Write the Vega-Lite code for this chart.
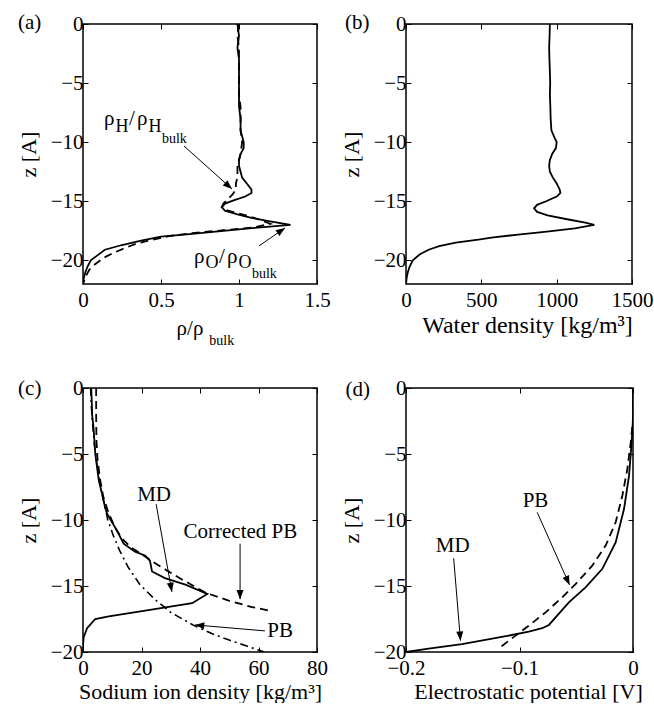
{
  "$schema": "https://vega.github.io/schema/vega-lite/v6.json",
  "padding": {"left": 16, "top": 11, "right": 0, "bottom": 0},
  "background": "white",
  "config": {
    "font": "Liberation Serif, Times New Roman, Times, serif",
    "view": {"stroke": "black", "strokeWidth": 1.5},
    "axis": {"labelFont": "Liberation Serif, Times New Roman, Times, serif", "titleFont": "Liberation Serif, Times New Roman, Times, serif", "labelFontSize": 21, "titleFontSize": 22, "titleFontWeight": "normal", "labelColor": "black", "titleColor": "black", "tickColor": "black", "tickSize": -5, "tickWidth": 1, "domain": false, "grid": false, "labelFlush": false, "labelOverlap": false, "labelPadding": 10, "titlePadding": 3, "format": "~f"},
    "axisY": {"labelPadding": 5, "titlePadding": 10},
    "text": {"font": "Liberation Serif, Times New Roman, Times, serif", "fontSize": 21, "color": "black"},
    "line": {"color": "black"}
  },
  "datasets": {
    "a": [
      {"s": "O", "v": 0.99, "z": 0}, {"s": "O", "v": 1.0, "z": -1}, {"s": "O", "v": 0.99, "z": -2}, {"s": "O", "v": 1.0, "z": -3}, {"s": "O", "v": 1.0, "z": -4}, {"s": "O", "v": 1.0, "z": -5}, {"s": "O", "v": 1.0, "z": -6}, {"s": "O", "v": 1.0, "z": -7}, {"s": "O", "v": 1.01, "z": -8}, {"s": "O", "v": 1.01, "z": -9}, {"s": "O", "v": 1.02, "z": -9.5}, {"s": "O", "v": 1.03, "z": -10}, {"s": "O", "v": 1.03, "z": -10.5}, {"s": "O", "v": 1.01, "z": -11}, {"s": "O", "v": 1.0, "z": -11.5}, {"s": "O", "v": 1.0, "z": -12}, {"s": "O", "v": 1.01, "z": -12.5}, {"s": "O", "v": 1.02, "z": -13}, {"s": "O", "v": 1.05, "z": -13.5}, {"s": "O", "v": 1.08, "z": -14}, {"s": "O", "v": 1.08, "z": -14.3}, {"s": "O", "v": 1.04, "z": -14.6}, {"s": "O", "v": 0.97, "z": -14.9}, {"s": "O", "v": 0.91, "z": -15.2}, {"s": "O", "v": 0.89, "z": -15.5}, {"s": "O", "v": 0.91, "z": -15.8}, {"s": "O", "v": 0.99, "z": -16.1}, {"s": "O", "v": 1.08, "z": -16.4}, {"s": "O", "v": 1.2, "z": -16.7}, {"s": "O", "v": 1.33, "z": -17.0}, {"s": "O", "v": 1.1, "z": -17.25}, {"s": "O", "v": 0.9, "z": -17.5}, {"s": "O", "v": 0.7, "z": -17.75}, {"s": "O", "v": 0.5, "z": -18.0}, {"s": "O", "v": 0.38, "z": -18.3}, {"s": "O", "v": 0.25, "z": -18.7}, {"s": "O", "v": 0.14, "z": -19.1}, {"s": "O", "v": 0.09, "z": -19.6}, {"s": "O", "v": 0.05, "z": -20.0}, {"s": "O", "v": 0.03, "z": -20.5}, {"s": "O", "v": 0.015, "z": -21}, {"s": "O", "v": 0.005, "z": -21.5}, {"s": "O", "v": 0, "z": -22},
      {"s": "H", "v": 1.0, "z": 0}, {"s": "H", "v": 0.99, "z": -1}, {"s": "H", "v": 1.0, "z": -2}, {"s": "H", "v": 1.0, "z": -3}, {"s": "H", "v": 1.0, "z": -4}, {"s": "H", "v": 1.0, "z": -5}, {"s": "H", "v": 1.0, "z": -6}, {"s": "H", "v": 1.01, "z": -7}, {"s": "H", "v": 1.01, "z": -8}, {"s": "H", "v": 1.01, "z": -9}, {"s": "H", "v": 1.02, "z": -10}, {"s": "H", "v": 1.01, "z": -11}, {"s": "H", "v": 0.99, "z": -12}, {"s": "H", "v": 0.99, "z": -12.5}, {"s": "H", "v": 0.99, "z": -13}, {"s": "H", "v": 0.98, "z": -13.5}, {"s": "H", "v": 0.98, "z": -14}, {"s": "H", "v": 0.96, "z": -14.4}, {"s": "H", "v": 0.93, "z": -14.8}, {"s": "H", "v": 0.9, "z": -15.2}, {"s": "H", "v": 0.89, "z": -15.5}, {"s": "H", "v": 0.93, "z": -15.8}, {"s": "H", "v": 1.02, "z": -16.1}, {"s": "H", "v": 1.12, "z": -16.5}, {"s": "H", "v": 1.2, "z": -16.9}, {"s": "H", "v": 1.1, "z": -17.2}, {"s": "H", "v": 0.9, "z": -17.45}, {"s": "H", "v": 0.7, "z": -17.7}, {"s": "H", "v": 0.55, "z": -17.95}, {"s": "H", "v": 0.43, "z": -18.3}, {"s": "H", "v": 0.34, "z": -18.6}, {"s": "H", "v": 0.26, "z": -19.0}, {"s": "H", "v": 0.19, "z": -19.4}, {"s": "H", "v": 0.13, "z": -19.8}, {"s": "H", "v": 0.08, "z": -20.3}, {"s": "H", "v": 0.04, "z": -20.8}, {"s": "H", "v": 0.02, "z": -21.3}, {"s": "H", "v": 0, "z": -22}
    ],
    "arrA": [
      {"id": "H", "v": 0.647, "z": -10.32, "v2": 0.955, "z2": -13.96},
      {"id": "O", "v": 1.128, "z": -18.78, "v2": 1.295, "z2": -17.26}
    ],
    "txtA": [
      {"t": "(a)", "v": -0.417, "z": -0.42},
      {"t": "ρ", "v": 0.135, "z": -8.55}, {"t": "H", "v": 0.208, "z": -9.14}, {"t": "/", "v": 0.295, "z": -8.55}, {"t": "ρ", "v": 0.346, "z": -8.55}, {"t": "H", "v": 0.42, "z": -9.14}, {"t": "bulk", "v": 0.506, "z": -10.07},
      {"t": "ρ", "v": 0.712, "z": -20.22}, {"t": "O", "v": 0.785, "z": -20.65}, {"t": "/", "v": 0.872, "z": -20.22}, {"t": "ρ", "v": 0.923, "z": -20.22}, {"t": "O", "v": 0.997, "z": -20.65}, {"t": "bulk", "v": 1.083, "z": -21.49},
      {"t": "ρ/ρ", "v": 0.6, "z": -26.3}, {"t": "bulk", "v": 0.81, "z": -27.2}
    ],
    "b": [
      {"v": 955, "z": 0}, {"v": 953, "z": -1}, {"v": 950, "z": -2}, {"v": 952, "z": -3}, {"v": 955, "z": -4}, {"v": 957, "z": -5}, {"v": 955, "z": -6}, {"v": 958, "z": -7}, {"v": 960, "z": -8}, {"v": 965, "z": -9}, {"v": 985, "z": -9.6}, {"v": 1000, "z": -10}, {"v": 995, "z": -10.5}, {"v": 970, "z": -11}, {"v": 955, "z": -11.5}, {"v": 950, "z": -12}, {"v": 955, "z": -12.5}, {"v": 975, "z": -13}, {"v": 1000, "z": -13.5}, {"v": 1020, "z": -14}, {"v": 1025, "z": -14.3}, {"v": 1000, "z": -14.6}, {"v": 930, "z": -15}, {"v": 870, "z": -15.3}, {"v": 850, "z": -15.6}, {"v": 870, "z": -15.9}, {"v": 940, "z": -16.2}, {"v": 1060, "z": -16.5}, {"v": 1190, "z": -16.8}, {"v": 1250, "z": -17.0}, {"v": 1120, "z": -17.3}, {"v": 950, "z": -17.55}, {"v": 760, "z": -17.8}, {"v": 580, "z": -18.05}, {"v": 480, "z": -18.25}, {"v": 330, "z": -18.5}, {"v": 220, "z": -18.8}, {"v": 150, "z": -19.1}, {"v": 90, "z": -19.5}, {"v": 45, "z": -20}, {"v": 25, "z": -20.5}, {"v": 12, "z": -21}, {"v": 4, "z": -21.5}, {"v": 0, "z": -22}
    ],
    "txtB": [{"t": "(b)", "v": -405, "z": -0.42}],
    "c": [
      {"s": "MD", "v": 2.8, "z": 0}, {"s": "MD", "v": 3.0, "z": -1}, {"s": "MD", "v": 3.1, "z": -2}, {"s": "MD", "v": 3.6, "z": -3}, {"s": "MD", "v": 3.9, "z": -4}, {"s": "MD", "v": 4.2, "z": -5}, {"s": "MD", "v": 4.8, "z": -6}, {"s": "MD", "v": 5.4, "z": -7}, {"s": "MD", "v": 6.5, "z": -8}, {"s": "MD", "v": 7.5, "z": -9}, {"s": "MD", "v": 8.2, "z": -9.5}, {"s": "MD", "v": 9.5, "z": -10}, {"s": "MD", "v": 11.6, "z": -10.8}, {"s": "MD", "v": 13.9, "z": -11.8}, {"s": "MD", "v": 17.8, "z": -12.4}, {"s": "MD", "v": 21.3, "z": -12.7}, {"s": "MD", "v": 22.9, "z": -13.1}, {"s": "MD", "v": 23.6, "z": -13.9}, {"s": "MD", "v": 28, "z": -14.4}, {"s": "MD", "v": 35, "z": -14.9}, {"s": "MD", "v": 42.5, "z": -15.6}, {"s": "MD", "v": 37.3, "z": -16.3}, {"s": "MD", "v": 20.2, "z": -16.9}, {"s": "MD", "v": 8.8, "z": -17.3}, {"s": "MD", "v": 4.2, "z": -17.5}, {"s": "MD", "v": 1.4, "z": -18.2}, {"s": "MD", "v": 0.2, "z": -18.9}, {"s": "MD", "v": 0, "z": -19.5}, {"s": "MD", "v": 0, "z": -20},
      {"s": "CPB", "v": 4.5, "z": 0}, {"s": "CPB", "v": 4.5, "z": -2}, {"s": "CPB", "v": 4.6, "z": -4}, {"s": "CPB", "v": 5.0, "z": -5.5}, {"s": "CPB", "v": 5.9, "z": -7}, {"s": "CPB", "v": 7.0, "z": -8.3}, {"s": "CPB", "v": 8.8, "z": -9.5}, {"s": "CPB", "v": 10.8, "z": -10.5}, {"s": "CPB", "v": 13.3, "z": -11.4}, {"s": "CPB", "v": 16.5, "z": -12.1}, {"s": "CPB", "v": 20.2, "z": -12.6}, {"s": "CPB", "v": 23.5, "z": -13.1}, {"s": "CPB", "v": 27, "z": -13.6}, {"s": "CPB", "v": 33.8, "z": -14.5}, {"s": "CPB", "v": 41.8, "z": -15.5}, {"s": "CPB", "v": 49.8, "z": -16.1}, {"s": "CPB", "v": 57.8, "z": -16.6}, {"s": "CPB", "v": 64.6, "z": -16.9},
      {"s": "PB", "v": 2.6, "z": 0}, {"s": "PB", "v": 2.9, "z": -1.5}, {"s": "PB", "v": 3.4, "z": -3}, {"s": "PB", "v": 4.0, "z": -4.5}, {"s": "PB", "v": 4.9, "z": -6}, {"s": "PB", "v": 6.0, "z": -7.5}, {"s": "PB", "v": 7.3, "z": -8.8}, {"s": "PB", "v": 8.5, "z": -10}, {"s": "PB", "v": 10.4, "z": -11.2}, {"s": "PB", "v": 12.5, "z": -12.3}, {"s": "PB", "v": 15.5, "z": -13.6}, {"s": "PB", "v": 19.5, "z": -14.9}, {"s": "PB", "v": 24.5, "z": -16}, {"s": "PB", "v": 30, "z": -17}, {"s": "PB", "v": 38, "z": -18}, {"s": "PB", "v": 44, "z": -18.6}, {"s": "PB", "v": 50, "z": -19.1}, {"s": "PB", "v": 56, "z": -19.55}, {"s": "PB", "v": 62, "z": -20}
    ],
    "arrC": [
      {"id": "MD", "v": 25, "z": -8.8, "v2": 30.4, "z2": -15.45},
      {"id": "CPB", "v": 53.7, "z": -11.8, "v2": 53.7, "z2": -16.0},
      {"id": "PB", "v": 62.2, "z": -18.4, "v2": 38.3, "z2": -17.95}
    ],
    "txtC": [
      {"t": "(c)", "v": -18.2, "z": -0.53},
      {"t": "MD", "v": 24.3, "z": -8.56},
      {"t": "Corrected PB", "v": 53.8, "z": -11.36},
      {"t": "PB", "v": 67.4, "z": -18.86}
    ],
    "d": [
      {"s": "MD", "v": 0, "z": 0}, {"s": "MD", "v": 0, "z": -2.35}, {"s": "MD", "v": -0.0012, "z": -4.12}, {"s": "MD", "v": -0.0035, "z": -6.64}, {"s": "MD", "v": -0.0079, "z": -9.17}, {"s": "MD", "v": -0.0153, "z": -11.7}, {"s": "MD", "v": -0.027, "z": -13.7}, {"s": "MD", "v": -0.0418, "z": -15.1}, {"s": "MD", "v": -0.0565, "z": -16.24}, {"s": "MD", "v": -0.0741, "z": -17.95}, {"s": "MD", "v": -0.08, "z": -18.2}, {"s": "MD", "v": -0.0918, "z": -18.46}, {"s": "MD", "v": -0.118, "z": -18.9}, {"s": "MD", "v": -0.1506, "z": -19.4}, {"s": "MD", "v": -0.18, "z": -19.75}, {"s": "MD", "v": -0.2, "z": -20},
      {"s": "PB", "v": 0, "z": 0}, {"s": "PB", "v": 0, "z": -2.35}, {"s": "PB", "v": -0.002, "z": -4.12}, {"s": "PB", "v": -0.005, "z": -6.14}, {"s": "PB", "v": -0.0094, "z": -8.16}, {"s": "PB", "v": -0.0153, "z": -10.18}, {"s": "PB", "v": -0.0241, "z": -11.94}, {"s": "PB", "v": -0.0359, "z": -13.46}, {"s": "PB", "v": -0.0506, "z": -14.85}, {"s": "PB", "v": -0.0624, "z": -15.86}, {"s": "PB", "v": -0.077, "z": -17.0}, {"s": "PB", "v": -0.0918, "z": -18.0}, {"s": "PB", "v": -0.1035, "z": -18.76}, {"s": "PB", "v": -0.1159, "z": -19.57}
    ],
    "arrD": [
      {"id": "PB", "v": -0.0844, "z": -9.42, "v2": -0.0559, "z2": -14.92},
      {"id": "MD", "v": -0.158, "z": -12.9, "v2": -0.152, "z2": -19.14}
    ],
    "txtD": [
      {"t": "(d)", "v": -0.2426, "z": -0.61},
      {"t": "PB", "v": -0.0859, "z": -9.04},
      {"t": "MD", "v": -0.1588, "z": -12.4}
    ]
  },
  "columns": 2,
  "spacing": {"row": 104, "column": 89},
  "bounds": "flush",
  "concat": [
    {
      "width": 234, "height": 260,
      "resolve": {"axis": {"x": "independent", "y": "independent"}},
      "layer": [
        {"data": {"name": "a"}, "transform": [{"filter": "datum.s == 'O'"}], "mark": {"type": "line", "strokeWidth": 1.8, "clip": true},
         "encoding": {
           "x": {"field": "v", "type": "quantitative", "scale": {"domain": [0, 1.5], "nice": false}, "axis": {"values": [0, 0.5, 1, 1.5], "title": null}},
           "y": {"field": "z", "type": "quantitative", "scale": {"domain": [-22, 0], "nice": false}, "axis": {"values": [0, -5, -10, -15, -20], "title": "z [A]"}},
           "order": {"field": "z", "type": "quantitative", "sort": "descending"}}},
        {"data": {"name": "a"}, "transform": [{"filter": "datum.s == 'H'"}], "mark": {"type": "line", "strokeWidth": 1.8, "strokeDash": [8, 5], "clip": true},
         "encoding": {
           "x": {"field": "v", "type": "quantitative", "scale": {"domain": [0, 1.5], "nice": false}, "axis": {"orient": "top", "values": [0, 0.5, 1, 1.5], "labels": false, "title": null}},
           "y": {"field": "z", "type": "quantitative", "scale": {"domain": [-22, 0], "nice": false}, "axis": {"orient": "right", "values": [0, -5, -10, -15, -20], "labels": false, "title": null}},
           "order": {"field": "z", "type": "quantitative", "sort": "descending"}}},
        {"data": {"name": "arrA"}, "mark": {"type": "rule", "color": "black", "strokeWidth": 1},
         "encoding": {
           "x": {"field": "v", "type": "quantitative", "scale": {"domain": [0, 1.5], "nice": false}, "axis": null},
           "y": {"field": "z", "type": "quantitative", "scale": {"domain": [-22, 0], "nice": false}, "axis": null},
           "x2": {"field": "v2"}, "y2": {"field": "z2"}}},
        {"data": {"name": "arrA"}, "transform": [{"filter": "datum.id == 'H'"}],
         "mark": {"type": "point", "shape": "M0,0L-0.38,1L0.38,1Z", "filled": true, "color": "black", "opacity": 1, "size": 340, "angle": 131.9},
         "encoding": {
           "x": {"field": "v2", "type": "quantitative", "scale": {"domain": [0, 1.5], "nice": false}, "axis": null},
           "y": {"field": "z2", "type": "quantitative", "scale": {"domain": [-22, 0], "nice": false}, "axis": null}}},
        {"data": {"name": "arrA"}, "transform": [{"filter": "datum.id == 'O'"}],
         "mark": {"type": "point", "shape": "M0,0L-0.38,1L0.38,1Z", "filled": true, "color": "black", "opacity": 1, "size": 340, "angle": 55.3},
         "encoding": {
           "x": {"field": "v2", "type": "quantitative", "scale": {"domain": [0, 1.5], "nice": false}, "axis": null},
           "y": {"field": "z2", "type": "quantitative", "scale": {"domain": [-22, 0], "nice": false}, "axis": null}}},
        {"data": {"name": "txtA"}, "transform": [{"filter": "datum.t != 'bulk' && datum.t != 'H' && datum.t != 'O'"}],
         "mark": {"type": "text", "align": "left", "baseline": "alphabetic", "fontSize": 21},
         "encoding": {
           "x": {"field": "v", "type": "quantitative", "scale": {"domain": [0, 1.5], "nice": false}, "axis": null},
           "y": {"field": "z", "type": "quantitative", "scale": {"domain": [-22, 0], "nice": false}, "axis": null},
           "text": {"field": "t"}}},
        {"data": {"name": "txtA"}, "transform": [{"filter": "datum.t == 'H' || datum.t == 'O'"}],
         "mark": {"type": "text", "align": "left", "baseline": "alphabetic", "fontSize": 18},
         "encoding": {
           "x": {"field": "v", "type": "quantitative", "scale": {"domain": [0, 1.5], "nice": false}, "axis": null},
           "y": {"field": "z", "type": "quantitative", "scale": {"domain": [-22, 0], "nice": false}, "axis": null},
           "text": {"field": "t"}}},
        {"data": {"name": "txtA"}, "transform": [{"filter": "datum.t == 'bulk'"}],
         "mark": {"type": "text", "align": "left", "baseline": "alphabetic", "fontSize": 14},
         "encoding": {
           "x": {"field": "v", "type": "quantitative", "scale": {"domain": [0, 1.5], "nice": false}, "axis": null},
           "y": {"field": "z", "type": "quantitative", "scale": {"domain": [-22, 0], "nice": false}, "axis": null},
           "text": {"field": "t"}}}
      ]
    },
    {
      "width": 226, "height": 260,
      "resolve": {"axis": {"x": "independent", "y": "independent"}},
      "layer": [
        {"data": {"name": "b"}, "mark": {"type": "line", "strokeWidth": 1.8, "clip": true},
         "encoding": {
           "x": {"field": "v", "type": "quantitative", "scale": {"domain": [0, 1500], "nice": false}, "axis": {"values": [0, 500, 1000, 1500], "title": "Water density [kg/m³]", "titleX": 121, "titleFontSize": 24}},
           "y": {"field": "z", "type": "quantitative", "scale": {"domain": [-22, 0], "nice": false}, "axis": {"values": [0, -5, -10, -15, -20], "title": "z [A]"}},
           "order": {"field": "z", "type": "quantitative", "sort": "descending"}}},
        {"data": {"name": "b"}, "mark": {"type": "line", "opacity": 0},
         "encoding": {
           "x": {"field": "v", "type": "quantitative", "scale": {"domain": [0, 1500], "nice": false}, "axis": {"orient": "top", "values": [0, 500, 1000, 1500], "labels": false, "title": null}},
           "y": {"field": "z", "type": "quantitative", "scale": {"domain": [-22, 0], "nice": false}, "axis": {"orient": "right", "values": [0, -5, -10, -15, -20], "labels": false, "title": null}},
           "order": {"field": "z", "type": "quantitative", "sort": "descending"}}},
        {"data": {"name": "txtB"},
         "mark": {"type": "text", "align": "left", "baseline": "alphabetic", "fontSize": 21},
         "encoding": {
           "x": {"field": "v", "type": "quantitative", "scale": {"domain": [0, 1500], "nice": false}, "axis": null},
           "y": {"field": "z", "type": "quantitative", "scale": {"domain": [-22, 0], "nice": false}, "axis": null},
           "text": {"field": "t"}}}
      ]
    },
    {
      "width": 234, "height": 264,
      "resolve": {"axis": {"x": "independent", "y": "independent"}},
      "layer": [
        {"data": {"name": "c"}, "transform": [{"filter": "datum.s == 'MD'"}], "mark": {"type": "line", "strokeWidth": 1.8, "clip": true},
         "encoding": {
           "x": {"field": "v", "type": "quantitative", "scale": {"domain": [0, 80], "nice": false}, "axis": {"values": [0, 20, 40, 60, 80], "title": "Sodium ion density [kg/m³]"}},
           "y": {"field": "z", "type": "quantitative", "scale": {"domain": [-20, 0], "nice": false}, "axis": {"values": [0, -5, -10, -15, -20], "title": "z [A]"}},
           "order": {"field": "z", "type": "quantitative", "sort": "descending"}}},
        {"data": {"name": "c"}, "transform": [{"filter": "datum.s == 'CPB'"}], "mark": {"type": "line", "strokeWidth": 1.8, "strokeDash": [8, 5], "clip": true},
         "encoding": {
           "x": {"field": "v", "type": "quantitative", "scale": {"domain": [0, 80], "nice": false}, "axis": {"orient": "top", "values": [0, 20, 40, 60, 80], "labels": false, "title": null}},
           "y": {"field": "z", "type": "quantitative", "scale": {"domain": [-20, 0], "nice": false}, "axis": {"orient": "right", "values": [0, -5, -10, -15, -20], "labels": false, "title": null}},
           "order": {"field": "z", "type": "quantitative", "sort": "descending"}}},
        {"data": {"name": "c"}, "transform": [{"filter": "datum.s == 'PB'"}], "mark": {"type": "line", "strokeWidth": 1.6, "strokeDash": [8, 4, 2, 4], "clip": true},
         "encoding": {
           "x": {"field": "v", "type": "quantitative", "scale": {"domain": [0, 80], "nice": false}, "axis": null},
           "y": {"field": "z", "type": "quantitative", "scale": {"domain": [-20, 0], "nice": false}, "axis": null},
           "order": {"field": "z", "type": "quantitative", "sort": "descending"}}},
        {"data": {"name": "arrC"}, "mark": {"type": "rule", "color": "black", "strokeWidth": 1},
         "encoding": {
           "x": {"field": "v", "type": "quantitative", "scale": {"domain": [0, 80], "nice": false}, "axis": null},
           "y": {"field": "z", "type": "quantitative", "scale": {"domain": [-20, 0], "nice": false}, "axis": null},
           "x2": {"field": "v2"}, "y2": {"field": "z2"}}},
        {"data": {"name": "arrC"}, "transform": [{"filter": "datum.id == 'MD'"}],
         "mark": {"type": "point", "shape": "M0,0L-0.38,1L0.38,1Z", "filled": true, "color": "black", "opacity": 1, "size": 340, "angle": 169.7},
         "encoding": {
           "x": {"field": "v2", "type": "quantitative", "scale": {"domain": [0, 80], "nice": false}, "axis": null},
           "y": {"field": "z2", "type": "quantitative", "scale": {"domain": [-20, 0], "nice": false}, "axis": null}}},
        {"data": {"name": "arrC"}, "transform": [{"filter": "datum.id == 'CPB'"}],
         "mark": {"type": "point", "shape": "M0,0L-0.38,1L0.38,1Z", "filled": true, "color": "black", "opacity": 1, "size": 340, "angle": 180},
         "encoding": {
           "x": {"field": "v2", "type": "quantitative", "scale": {"domain": [0, 80], "nice": false}, "axis": null},
           "y": {"field": "z2", "type": "quantitative", "scale": {"domain": [-20, 0], "nice": false}, "axis": null}}},
        {"data": {"name": "arrC"}, "transform": [{"filter": "datum.id == 'PB'"}],
         "mark": {"type": "point", "shape": "M0,0L-0.38,1L0.38,1Z", "filled": true, "color": "black", "opacity": 1, "size": 340, "angle": 274.9},
         "encoding": {
           "x": {"field": "v2", "type": "quantitative", "scale": {"domain": [0, 80], "nice": false}, "axis": null},
           "y": {"field": "z2", "type": "quantitative", "scale": {"domain": [-20, 0], "nice": false}, "axis": null}}},
        {"data": {"name": "txtC"},
         "mark": {"type": "text", "align": "center", "baseline": "alphabetic", "fontSize": 21},
         "encoding": {
           "x": {"field": "v", "type": "quantitative", "scale": {"domain": [0, 80], "nice": false}, "axis": null},
           "y": {"field": "z", "type": "quantitative", "scale": {"domain": [-20, 0], "nice": false}, "axis": null},
           "text": {"field": "t"}}}
      ]
    },
    {
      "width": 227, "height": 264,
      "resolve": {"axis": {"x": "independent", "y": "independent"}},
      "layer": [
        {"data": {"name": "d"}, "transform": [{"filter": "datum.s == 'MD'"}], "mark": {"type": "line", "strokeWidth": 1.8, "clip": true},
         "encoding": {
           "x": {"field": "v", "type": "quantitative", "scale": {"domain": [-0.2, 0], "nice": false}, "axis": {"values": [-0.2, -0.1, 0], "title": "Electrostatic potential [V]", "titleX": 122}},
           "y": {"field": "z", "type": "quantitative", "scale": {"domain": [-20, 0], "nice": false}, "axis": {"values": [0, -5, -10, -15, -20], "title": "z [A]"}},
           "order": {"field": "z", "type": "quantitative", "sort": "descending"}}},
        {"data": {"name": "d"}, "transform": [{"filter": "datum.s == 'PB'"}], "mark": {"type": "line", "strokeWidth": 1.8, "strokeDash": [8, 5], "clip": true},
         "encoding": {
           "x": {"field": "v", "type": "quantitative", "scale": {"domain": [-0.2, 0], "nice": false}, "axis": {"orient": "top", "values": [-0.2, -0.1, 0], "labels": false, "title": null}},
           "y": {"field": "z", "type": "quantitative", "scale": {"domain": [-20, 0], "nice": false}, "axis": {"orient": "right", "values": [0, -5, -10, -15, -20], "labels": false, "title": null}},
           "order": {"field": "z", "type": "quantitative", "sort": "descending"}}},
        {"data": {"name": "arrD"}, "mark": {"type": "rule", "color": "black", "strokeWidth": 1},
         "encoding": {
           "x": {"field": "v", "type": "quantitative", "scale": {"domain": [-0.2, 0], "nice": false}, "axis": null},
           "y": {"field": "z", "type": "quantitative", "scale": {"domain": [-20, 0], "nice": false}, "axis": null},
           "x2": {"field": "v2"}, "y2": {"field": "z2"}}},
        {"data": {"name": "arrD"}, "transform": [{"filter": "datum.id == 'PB'"}],
         "mark": {"type": "point", "shape": "M0,0L-0.38,1L0.38,1Z", "filled": true, "color": "black", "opacity": 1, "size": 340, "angle": 156},
         "encoding": {
           "x": {"field": "v2", "type": "quantitative", "scale": {"domain": [-0.2, 0], "nice": false}, "axis": null},
           "y": {"field": "z2", "type": "quantitative", "scale": {"domain": [-20, 0], "nice": false}, "axis": null}}},
        {"data": {"name": "arrD"}, "transform": [{"filter": "datum.id == 'MD'"}],
         "mark": {"type": "point", "shape": "M0,0L-0.38,1L0.38,1Z", "filled": true, "color": "black", "opacity": 1, "size": 340, "angle": 175.4},
         "encoding": {
           "x": {"field": "v2", "type": "quantitative", "scale": {"domain": [-0.2, 0], "nice": false}, "axis": null},
           "y": {"field": "z2", "type": "quantitative", "scale": {"domain": [-20, 0], "nice": false}, "axis": null}}},
        {"data": {"name": "txtD"},
         "mark": {"type": "text", "align": "center", "baseline": "alphabetic", "fontSize": 21},
         "encoding": {
           "x": {"field": "v", "type": "quantitative", "scale": {"domain": [-0.2, 0], "nice": false}, "axis": null},
           "y": {"field": "z", "type": "quantitative", "scale": {"domain": [-20, 0], "nice": false}, "axis": null},
           "text": {"field": "t"}}}
      ]
    }
  ]
}
